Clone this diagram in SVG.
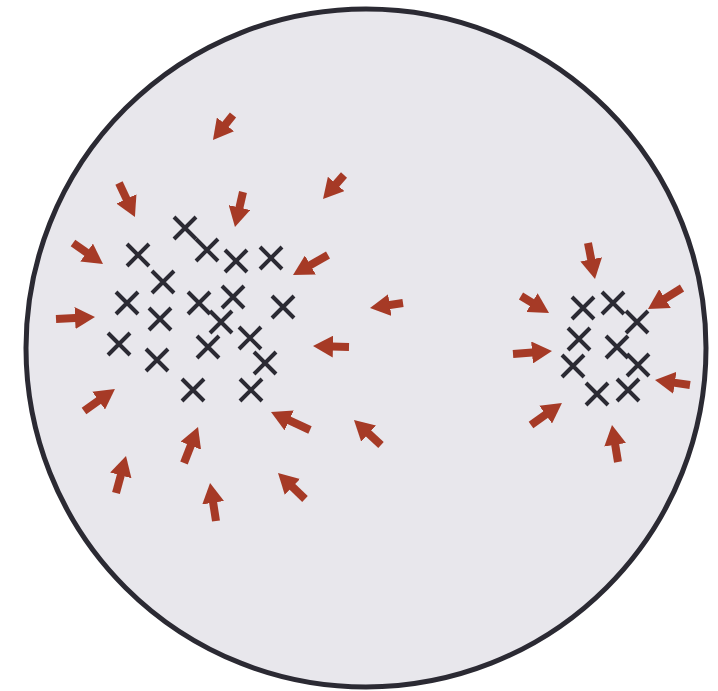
<svg xmlns="http://www.w3.org/2000/svg" xmlns:xlink="http://www.w3.org/1999/xlink" width="718" height="691" viewBox="0 0 718 691">
<style>
.x{fill:none;stroke:#2b2a33;stroke-width:4;stroke-linecap:butt}
.ar{stroke:#a63a26;stroke-width:8;fill:none;marker-end:url(#head)}
</style>
<defs>
<marker id="head" viewBox="0 0 20 22" refX="10" refY="11" markerWidth="20" markerHeight="22" markerUnits="userSpaceOnUse" orient="auto">
<path d="M0,0 L20,11 L0,22 z" fill="#a63a26"/>
</marker>
<path id="cx" d="M-11,-11 L11,11 M-11,11 L11,-11"/>
</defs>
<rect width="718" height="691" fill="#ffffff"/>
<g id="boundary"><ellipse cx="366" cy="348" rx="340" ry="339" fill="#e8e7ec" stroke="#2b2a33" stroke-width="5"/></g>
<g id="clusterA" class="x">
<g id="a1"><use href="#cx" x="138" y="255"/></g>
<g id="a2"><use href="#cx" x="185" y="228"/></g>
<g id="a3"><use href="#cx" x="207" y="250"/></g>
<g id="a4"><use href="#cx" x="236" y="261"/></g>
<g id="a5"><use href="#cx" x="271" y="258"/></g>
<g id="a6"><use href="#cx" x="163" y="282"/></g>
<g id="a7"><use href="#cx" x="127" y="303"/></g>
<g id="a8"><use href="#cx" x="199" y="303"/></g>
<g id="a9"><use href="#cx" x="233" y="297"/></g>
<g id="a10"><use href="#cx" x="283" y="307"/></g>
<g id="a11"><use href="#cx" x="160" y="319"/></g>
<g id="a12"><use href="#cx" x="221" y="322"/></g>
<g id="a13"><use href="#cx" x="119" y="344"/></g>
<g id="a14"><use href="#cx" x="208" y="347"/></g>
<g id="a15"><use href="#cx" x="250" y="338"/></g>
<g id="a16"><use href="#cx" x="157" y="360"/></g>
<g id="a17"><use href="#cx" x="265" y="363"/></g>
<g id="a18"><use href="#cx" x="193" y="390"/></g>
<g id="a19"><use href="#cx" x="251" y="390"/></g>
</g>
<g id="clusterB" class="x">
<g id="b1"><use href="#cx" x="583" y="308"/></g>
<g id="b2"><use href="#cx" x="613" y="303"/></g>
<g id="b3"><use href="#cx" x="637" y="322"/></g>
<g id="b4"><use href="#cx" x="579" y="339"/></g>
<g id="b5"><use href="#cx" x="617" y="347"/></g>
<g id="b6"><use href="#cx" x="638" y="365"/></g>
<g id="b7"><use href="#cx" x="573" y="366"/></g>
<g id="b8"><use href="#cx" x="597" y="394"/></g>
<g id="b9"><use href="#cx" x="628" y="390"/></g>
</g>
<g id="connectors" class="ar">
<line x1="233" y1="115" x2="219.2" y2="132.2"/>
<line x1="344" y1="175" x2="329.6" y2="191.5"/>
<line x1="119" y1="183" x2="130.7" y2="207.9"/>
<line x1="243" y1="192" x2="237.2" y2="217.3"/>
<line x1="73" y1="243" x2="94.8" y2="258.3"/>
<line x1="328" y1="255" x2="301.7" y2="270"/>
<line x1="56" y1="319" x2="85" y2="317.5"/>
<line x1="403" y1="303" x2="379.9" y2="306.5"/>
<line x1="349" y1="347" x2="323" y2="346.3"/>
<line x1="84" y1="411" x2="106.8" y2="394.8"/>
<line x1="184" y1="463" x2="194.4" y2="436.3"/>
<line x1="310" y1="430" x2="280.1" y2="416.2"/>
<line x1="381" y1="445" x2="361.3" y2="426.8"/>
<line x1="116" y1="493" x2="123.4" y2="465.7"/>
<line x1="216" y1="521" x2="211.6" y2="492.9"/>
<line x1="305" y1="499" x2="285.2" y2="479.9"/>
<line x1="588" y1="243" x2="593.1" y2="269.2"/>
<line x1="521" y1="296" x2="540.5" y2="307.8"/>
<line x1="682" y1="288" x2="656.5" y2="303.8"/>
<line x1="513" y1="354" x2="542" y2="351.8"/>
<line x1="690" y1="385" x2="664.9" y2="381.4"/>
<line x1="531" y1="425" x2="553.8" y2="408.8"/>
<line x1="618" y1="462" x2="613.6" y2="434.9"/>
</g>
</svg>
